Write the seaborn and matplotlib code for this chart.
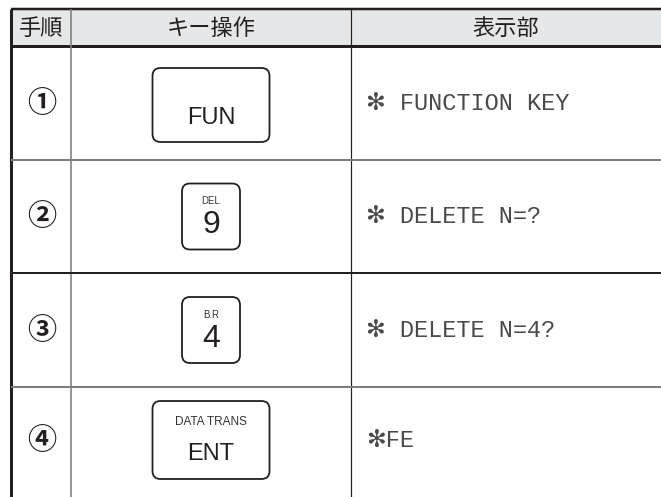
import matplotlib
matplotlib.use("Agg")
import matplotlib.pyplot as plt
from matplotlib.patches import FancyBboxPatch, Rectangle
import seaborn as sns

# table content
headers = ["手順", "キー操作", "表示部"]
steps = ["①", "②", "③", "④"]
key_top = ["", "DEL", "B.R", "DATA TRANS"]
key_main = ["FUN", "9", "4", "ENT"]
key_wide = [True, False, False, True]
display = ["✻ FUNCTION KEY", "✻ DELETE N=?", "✻ DELETE N=4?", "✻FE"]

# layout (pixels)
W, H = 661, 497
col_x = [11, 71, 351, 661]
row_y = [9, 46, 160, 273, 387, 497]
DARK = "#231f20"
GREY = "#7d7d7d"

sns.set_theme(style="white")
plt.rcParams["font.family"] = ["Noto Sans CJK JP", "DejaVu Sans"]

fig = plt.figure(figsize=(W / 100, H / 100), dpi=100)
ax = fig.add_axes([0, 0, 1, 1])
ax.set_xlim(0, W)
ax.set_ylim(H, 0)
ax.axis("off")

px = 0.72  # one pixel in points

# header
ax.add_patch(Rectangle((col_x[0], row_y[0]), W - col_x[0], row_y[1] - row_y[0],
                       facecolor="#e6e7e8", edgecolor="none", zorder=0))
for i, h in enumerate(headers):
    cx = (col_x[i] + col_x[i + 1]) / 2
    ax.text(cx, (row_y[0] + row_y[1]) / 2 + 1, h, ha="center", va="center",
            fontsize=16, color=DARK)

# grid lines
ax.plot([col_x[0], W], [row_y[0], row_y[0]], color=DARK, lw=2.5 * px, solid_capstyle="butt")
ax.plot([col_x[0], W], [row_y[1], row_y[1]], color=DARK, lw=3 * px, solid_capstyle="butt")
ax.plot([col_x[0], col_x[0]], [row_y[0], H], color=DARK, lw=3 * px, solid_capstyle="butt")
ax.plot([col_x[1], col_x[1]], [row_y[0], H], color=GREY, lw=1.6 * px, solid_capstyle="butt")
ax.plot([col_x[2], col_x[2]], [row_y[0], H], color=DARK, lw=1.2 * px, solid_capstyle="butt")
row_colors = [GREY, DARK, GREY]
for y, c in zip(row_y[2:5], row_colors):
    ax.plot([col_x[0], W], [y, y], color=c, lw=2 * px, solid_capstyle="butt")

# rows
for i in range(len(steps)):
    top = row_y[i + 1]
    bot = min(row_y[i + 2], 497)
    cy = (top + bot) / 2 if i < 3 else 440
    ax.text((col_x[0] + col_x[1]) / 2 + 1, cy, steps[i], ha="center", va="center",
            fontsize=21, fontweight="bold", color=DARK)

    kx = (col_x[1] + col_x[2]) / 2
    if key_wide[i]:
        bw, bh = 117, 74 if i == 0 else 78
    else:
        bw, bh = 58, 66
    by = cy - bh / 2 + (2 if i == 0 else 0)
    ax.add_patch(FancyBboxPatch((kx - bw / 2, by), bw, bh,
                                boxstyle="round,pad=0,rounding_size=8",
                                facecolor="white", edgecolor=DARK, lw=1.8 * px))
    if key_top[i]:
        ax.text(kx, by + bh * 0.27, key_top[i], ha="center", va="center",
                fontsize=7 if not key_wide[i] else 8.5, family="Liberation Sans", color="#333333")
    main_y = by + bh * (0.68 if key_wide[i] else 0.63)
    ax.text(kx, main_y, key_main[i], ha="center", va="center",
            fontsize=17 if key_wide[i] else 23, family="Liberation Sans", color=DARK)

    ax.text(col_x[2] + 15, cy, display[i], ha="left", va="center",
            fontsize=17, family=["Liberation Mono", "DejaVu Sans"], color="#4a4a4a")

sns.despine(ax=ax, left=True, bottom=True)
fig.savefig("out.png", dpi=100)
